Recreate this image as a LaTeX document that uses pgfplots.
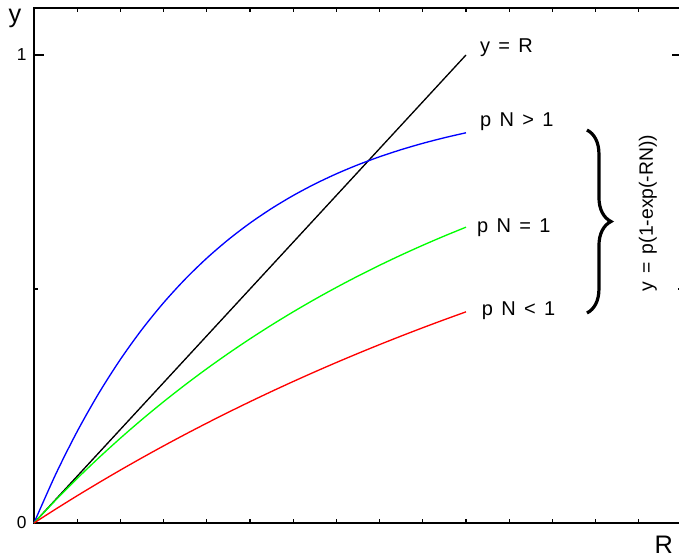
\documentclass[border=0pt]{standalone}
\usepackage{fontspec}
\setmainfont{Liberation Sans}
\newfontfamily\annot{Liberation Sans}[WordSpace=1.5]
\usepackage{pgfplots}
\pgfplotsset{compat=1.18}
\usetikzlibrary{decorations.pathreplacing}

\begin{document}
\begin{tikzpicture}
\begin{axis}[
    scale only axis,
    width=486pt,
    height=386.1pt,
    xmin=0, xmax=1.5,
    ymin=0, ymax=1.1,
    axis line style={line width=1.2pt},
    xtick={0.1,0.2,0.3,0.4,0.5,0.6,0.7,0.8,0.9,1.0,1.1,1.2,1.3,1.4},
    xticklabel=\empty,
    ytick={0,0.5},
    yticklabels={0,{}},
    extra y ticks={1},
    extra y tick labels={1},
    extra tick style={major tick length=7.5pt},
    major tick length=2.8pt,
    every tick/.style={black, line width=0.8pt},
    yticklabel style={font=\fontsize{13}{13}\selectfont, xshift=-2pt},
    /pgf/number format/assume math mode=true,
    clip=false,
]
% y = R
\addplot[black, line width=1pt] coordinates {(0,0) (1,1)};
% p N > 1
\addplot[blue, line width=1pt, smooth] coordinates {
    (0,0) (0.05,0.10369) (0.1,0.19566) (0.15,0.27723) (0.2,0.34958)
    (0.25,0.41374) (0.3,0.47065) (0.35,0.52112) (0.4,0.56589) (0.45,0.60559)
    (0.5,0.64081) (0.55,0.67204) (0.6,0.69974) (0.65,0.72430) (0.7,0.74610)
    (0.75,0.76542) (0.8,0.78256) (0.85,0.79776) (0.9,0.81124) (0.95,0.82321)
    (1.0,0.83381)
};
% p N = 1
\addplot[green, line width=1pt, smooth] coordinates {
    (0,0) (0.05,0.04877) (0.1,0.09516) (0.15,0.13929) (0.2,0.18127)
    (0.25,0.22120) (0.3,0.25918) (0.35,0.29531) (0.4,0.32968) (0.45,0.36237)
    (0.5,0.39347) (0.55,0.42305) (0.6,0.45119) (0.65,0.47795) (0.7,0.50341)
    (0.75,0.52763) (0.8,0.55067) (0.85,0.57259) (0.9,0.59343) (0.95,0.61326)
    (1.0,0.63212)
};
% p N < 1
\addplot[red, line width=1pt, smooth] coordinates {
    (0,0) (0.05,0.02955) (0.1,0.05824) (0.15,0.08607) (0.2,0.11308)
    (0.25,0.13929) (0.3,0.16473) (0.35,0.18942) (0.4,0.21337) (0.45,0.23662)
    (0.5,0.25918) (0.55,0.28108) (0.6,0.30232) (0.65,0.32294) (0.7,0.34295)
    (0.75,0.36237) (0.8,0.38122) (0.85,0.39950) (0.9,0.41725) (0.95,0.43447)
    (1.0,0.45119)
};

\coordinate (o) at (axis cs:0,0);

\node[anchor=base west, inner sep=0pt, font=\annot\fontsize{15}{15}\selectfont]
    at (axis cs:1.032,1.005) {y = R};
\node[anchor=base west, inner sep=0pt, font=\annot\fontsize{15}{15}\selectfont]
    at (axis cs:1.032,0.8468) {p N > 1};
\node[anchor=base west, inner sep=0pt, font=\annot\fontsize{15}{15}\selectfont]
    at (axis cs:1.025,0.6197) {p N = 1};
\node[anchor=base west, inner sep=0pt, font=\annot\fontsize{15}{15}\selectfont]
    at (axis cs:1.036,0.4444) {p N < 1};
\node[rotate=90, inner sep=0pt, font=\annot\fontsize{14.5}{14.5}\selectfont]
    at (axis cs:1.421,0.6624) {y = p(1-exp(-RN))};

\draw[decorate, decoration={brace, amplitude=18pt}, line width=2.4pt]
    (axis cs:1.28,0.8397) -- (axis cs:1.28,0.4487);

% axis labels
\node[inner sep=0pt, font=\fontsize{19}{19}\selectfont] at (axis cs:-0.044,1.079) {y};
\node[inner sep=0pt, font=\fontsize{19}{19}\selectfont] at (axis cs:1.458,-0.047) {R};
\end{axis}
\pgfresetboundingbox
\path[use as bounding box] ([shift={(-25.5pt,-27.75pt)}]o) rectangle ([shift={(483.75pt,392.25pt)}]o);
\end{tikzpicture}
\end{document}
